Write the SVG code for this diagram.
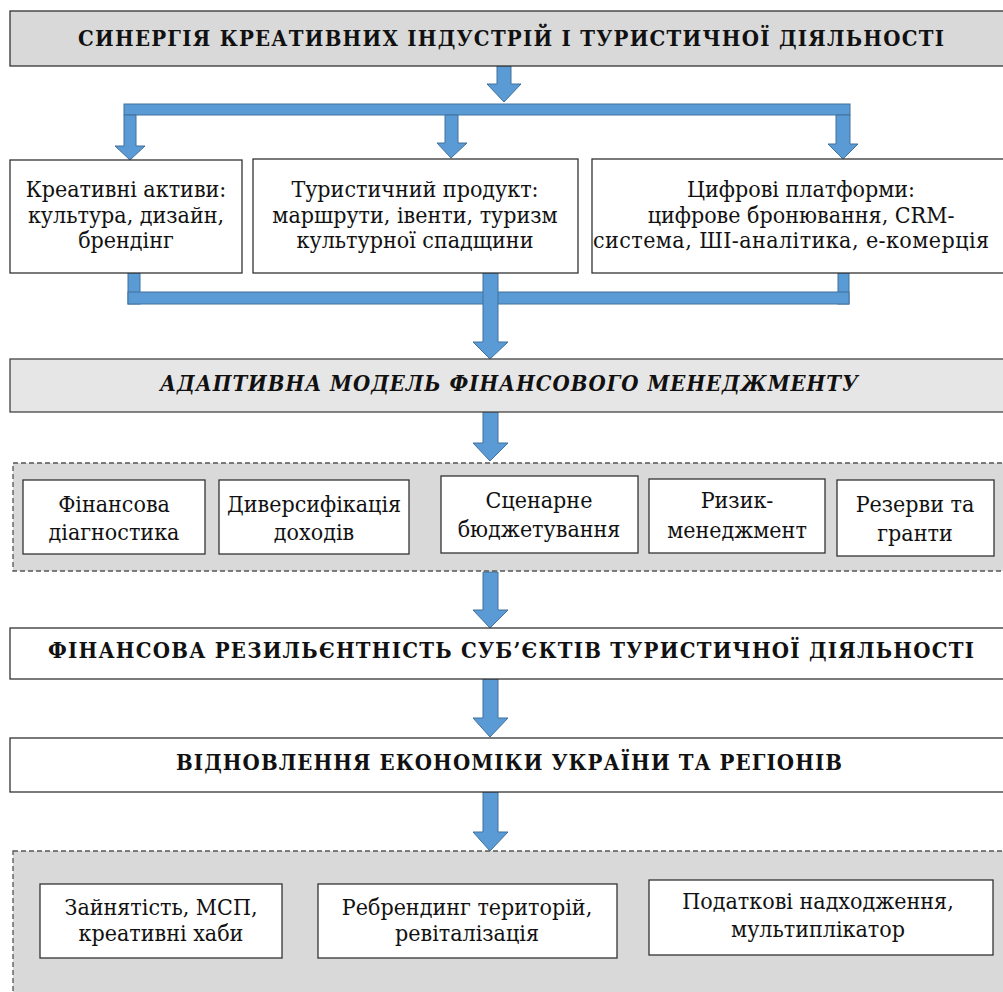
<svg xmlns="http://www.w3.org/2000/svg" width="1003" height="992" viewBox="0 0 1003 992">
<style>
.box{fill:#fff;stroke:#333;stroke-width:1.3}
.g1{fill:#d9d9d9;stroke:#333;stroke-width:1.3}
.g2{fill:#e7e6e6;stroke:#444;stroke-width:1.3}
.dash{fill:#d9d9d9;stroke:#555;stroke-width:1.3;stroke-dasharray:5 3}
.arr{fill:#5b9bd5;stroke:#41719c;stroke-width:1}
text{font-family:"DejaVu Serif","Liberation Serif",serif;font-stretch:condensed;fill:#111;text-anchor:middle}
.t{font-size:23px}
.h{font-size:22px;font-weight:bold}
.hi{font-size:22px;font-weight:bold;font-style:italic}
</style>
<rect width="1003" height="992" fill="#fff"/>
<g id="connectors">
<path class="arr" d="M497,66 H511 V84 H521 L504,102 L487,84 H497 Z"/>
<rect class="arr" x="124" y="104" width="726" height="11"/>
<path class="arr" d="M124,115 H136 V146 H145 L130,160 L115,146 H124 Z"/>
<path class="arr" d="M445,115 H458 V143 H467 L451,158 L437,143 H445 Z"/>
<path class="arr" d="M836,115 H850 V144 H858 L843,159 L828,144 H836 Z"/>
<rect class="arr" x="128" y="273" width="12" height="31"/>
<rect class="arr" x="838" y="273" width="11" height="31"/>
<rect class="arr" x="128" y="292" width="721" height="12"/>
<path class="arr" d="M483,273 H498 V342 H508 L490,359 L473,342 H483 Z"/>
<path class="arr" d="M483,412 H498 V443 H508 L490,461 L473,443 H483 Z"/>
<path class="arr" d="M483,572 H498 V610 H508 L490,628 L473,610 H483 Z"/>
<path class="arr" d="M483,679 H498 V718 H508 L490,737 L473,718 H483 Z"/>
<path class="arr" d="M483,792 H498 V832 H508 L490,851 L473,832 H483 Z"/>
</g>
<g id="n-synergy">
<rect class="g1" x="10" y="11" width="1000" height="55"/>
<text class="h" x="511" y="46" textLength="866" lengthAdjust="spacing">СИНЕРГІЯ КРЕАТИВНИХ ІНДУСТРІЙ І ТУРИСТИЧНОЇ ДІЯЛЬНОСТІ</text>
</g>
<g id="n-creative">
<rect class="box" x="10" y="160" width="232" height="113"/>
<text class="t" x="126" y="197">Креативні активи:</text>
<text class="t" x="126" y="223">культура, дизайн,</text>
<text class="t" x="126" y="248">брендінг</text>
</g>
<g id="n-tourism">
<rect class="box" x="253" y="159" width="325" height="114"/>
<text class="t" x="415" y="197">Туристичний продукт:</text>
<text class="t" x="415" y="223">маршрути, івенти, туризм</text>
<text class="t" x="415" y="248">культурної спадщини</text>
</g>
<g id="n-digital">
<rect class="box" x="592" y="159" width="420" height="114"/>
<text class="t" x="801" y="197">Цифрові платформи:</text>
<text class="t" x="801" y="223">цифрове бронювання, CRM-</text>
<text class="t" x="791" y="248" textLength="396" lengthAdjust="spacing">система,  ШІ-аналітика, е-комерція</text>
</g>
<g id="n-model">
<rect class="g2" x="10" y="359" width="1000" height="53"/>
<text class="hi" x="509" y="391" textLength="698" lengthAdjust="spacing">АДАПТИВНА МОДЕЛЬ ФІНАНСОВОГО МЕНЕДЖМЕНТУ</text>
</g>
<g id="n-tools">
<rect class="dash" x="13" y="463" width="1000" height="108"/>
</g>
<g id="n-diag">
<rect class="box" x="23" y="480" width="182" height="74"/>
<text class="t" x="114" y="512">Фінансова</text>
<text class="t" x="114" y="540">діагностика</text>
</g>
<g id="n-divers">
<rect class="box" x="219" y="480" width="190" height="74"/>
<text class="t" x="314" y="512">Диверсифікація</text>
<text class="t" x="314" y="540">доходів</text>
</g>
<g id="n-scen">
<rect class="box" x="441" y="476" width="197" height="77"/>
<text class="t" x="539" y="508">Сценарне</text>
<text class="t" x="539" y="537">бюджетування</text>
</g>
<g id="n-risk">
<rect class="box" x="649" y="479" width="176" height="74"/>
<text class="t" x="737" y="508">Ризик-</text>
<text class="t" x="737" y="538">менеджмент</text>
</g>
<g id="n-reserve">
<rect class="box" x="837" y="480" width="157" height="76"/>
<text class="t" x="915" y="512">Резерви та</text>
<text class="t" x="915" y="541">гранти</text>
</g>
<g id="n-resilience">
<rect class="box" x="10" y="628" width="1000" height="51"/>
<text class="h" x="511" y="658" textLength="926" lengthAdjust="spacing">ФІНАНСОВА РЕЗИЛЬЄНТНІСТЬ СУБ’ЄКТІВ ТУРИСТИЧНОЇ ДІЯЛЬНОСТІ</text>
</g>
<g id="n-recovery">
<rect class="box" x="10" y="738" width="1000" height="54"/>
<text class="h" x="509" y="770" textLength="666" lengthAdjust="spacing">ВІДНОВЛЕННЯ ЕКОНОМІКИ УКРАЇНИ ТА РЕГІОНІВ</text>
</g>
<g id="n-effects">
<rect class="dash" x="13" y="851" width="1000" height="150"/>
</g>
<g id="n-employ">
<rect class="box" x="40" y="884" width="242" height="74"/>
<text class="t" x="161" y="915">Зайнятість, МСП,</text>
<text class="t" x="161" y="941">креативні хаби</text>
</g>
<g id="n-rebrand">
<rect class="box" x="318" y="884" width="299" height="74"/>
<text class="t" x="467" y="915">Ребрендинг територій,</text>
<text class="t" x="467" y="941">ревіталізація</text>
</g>
<g id="n-tax">
<rect class="box" x="649" y="880" width="344" height="75"/>
<text class="t" x="818" y="909">Податкові надходження,</text>
<text class="t" x="818" y="937">мультиплікатор</text>
</g>
</svg>
